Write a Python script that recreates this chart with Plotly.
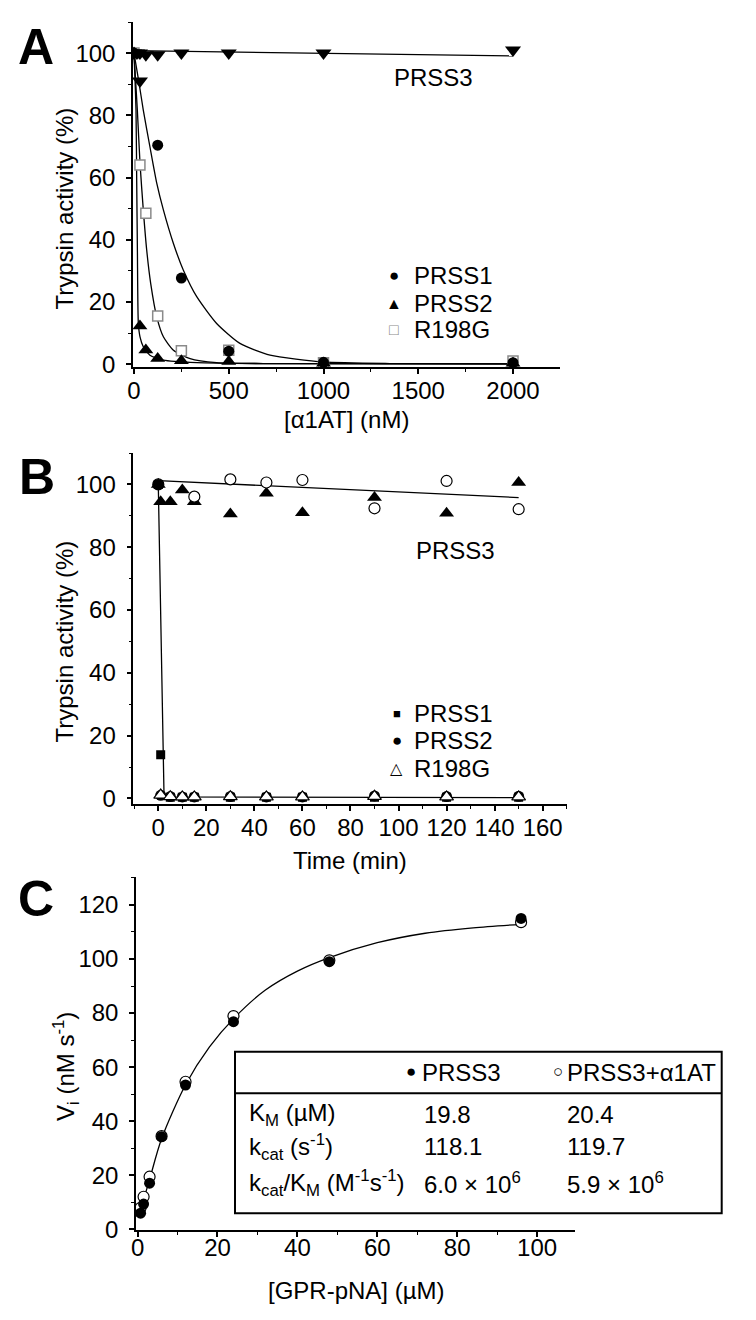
import plotly.graph_objects as go

# page body has an 8px margin, so the figure is drawn 8px in from the window corner
OFF = 8
W, H = 756 - OFF, 1320 - OFF
FONT = "Liberation Sans, Arial, sans-serif"

# ---------------- Panel A data ----------------
a_conc_prss1 = [0, 125, 250, 500, 1000, 2000]
a_prss1 = [100, 70.4, 27.7, 4.2, 0.6, 0.5]
a_conc = [0, 31.25, 62.5, 125, 250, 500, 1000, 2000]
a_prss2 = [100, 12.3, 4.6, 1.8, 1.1, 0.9, 0.3, 0.3]
a_r198g = [100, 64.0, 48.5, 15.5, 4.3, 4.5, 0.5, 1.0]
a_conc_prss3 = [0, 15.6, 31.25, 31.25, 62.5, 125, 250, 500, 1000, 2000]
a_prss3 = [100, 100, 100, 91, 99.5, 99.5, 100, 100, 100, 101]
# fitted curves
a_fit1_x = [0, 25, 49, 84, 120, 155, 208, 260, 331, 436, 559, 718, 1000, 1350, 2000]
a_fit1_y = [100, 91, 81.7, 69.9, 58.2, 49.6, 38.8, 30.3, 21.7, 13.1, 6.7, 2.9, 0.7, 0.2, 0.1]
a_fit2_x = [0, 5, 10.6, 14.2, 18, 22.9, 31.7, 49, 84, 155, 331, 683, 2000]
a_fit2_y = [100, 92, 81.7, 59, 36, 13.1, 8.8, 5.6, 2.9, 1.3, 0.5, 0.2, 0.1]
a_fitR_x = [0, 17.6, 31.7, 49, 67, 88, 120, 155, 208, 296, 436, 683, 2000]
a_fitR_y = [100, 81.7, 64.6, 49.6, 36.7, 26.0, 15.2, 8.8, 4.5, 1.8, 0.5, 0.2, 0.1]
a_fit3_x = [0, 2000]
a_fit3_y = [100.8, 99.1]
a_legend = ["PRSS1", "PRSS2", "R198G"]

# ---------------- Panel B data ----------------
b_t_tri = [0, 1, 5, 10, 15, 30, 45, 60, 90, 120, 150]
b_prss3_tri = [100, 94.5, 94.5, 98.2, 94.5, 90.6, 97.2, 91.0, 95.8, 90.8, 100.6]
b_t_circ = [0, 15, 30, 45, 60, 90, 120, 150]
b_prss3_circ = [100, 96.1, 101.6, 100.6, 101.4, 92.4, 101.1, 92.1]
b_t = [0, 1, 5, 10, 15, 30, 45, 60, 90, 120, 150]
b_prss1 = [100, 13.9, 0.4, 0.4, 0.4, 0.4, 0.4, 0.4, 0.4, 0.4, 0.4]
b_prss2 = [100, 1.0, 0.6, 0.5, 0.5, 0.6, 0.5, 0.5, 0.8, 0.6, 0.7]
b_t_r = [1, 5, 10, 15, 30, 45, 60, 90, 120, 150]
b_r198g = [1.1, 0.6, 0.5, 0.5, 0.6, 0.5, 0.5, 0.7, 0.5, 0.5]
b_fit3_x = [0, 150]
b_fit3_y = [101.2, 95.8]
b_fit_x = [0, 2.4, 150]
b_fit_y = [100, 0.5, 0.3]
b_legend = ["PRSS1", "PRSS2", "R198G"]

# ---------------- Panel C data ----------------
c_s = [0.75, 1.5, 3, 6, 12, 24, 48, 96]
c_prss3 = [6.0, 9.4, 17.1, 34.3, 53.4, 76.8, 99.0, 115.0]
c_prss3_a1at = [8.0, 12.1, 19.5, 34.5, 54.6, 78.9, 99.5, 113.6]
c_fit_x = [0.75, 1.5, 3, 6, 12, 18, 24.4, 32, 40, 48, 60, 72, 84, 96]
c_fit_y = [7.5, 11, 18.5, 33.5, 53.5, 67.5, 78.5, 88.5, 95.5, 100.5, 106, 109.5, 111.5, 112.8]

tbl_header = ["PRSS3", "PRSS3+α1AT"]
tbl_rows = ["K<sub>M</sub> (µM)", "k<sub>cat</sub> (s<sup>-1</sup>)",
            "k<sub>cat</sub>/K<sub>M</sub> (M<sup>-1</sup>s<sup>-1</sup>)"]
tbl_prss3 = ["19.8", "118.1", "6.0 × 10<sup>6</sup>"]
tbl_a1at = ["20.4", "119.7", "5.9 × 10<sup>6</sup>"]


def px(x):
    return (x - OFF) / W


def py(y):
    return 1 - (y - OFF) / H


fig = go.Figure()
LINE = dict(color="black", width=1.3)

# Panel A
for xs, ys in [(a_fit1_x, a_fit1_y), (a_fit2_x, a_fit2_y), (a_fitR_x, a_fitR_y)]:
    fig.add_trace(go.Scatter(x=xs, y=ys, mode="lines", line=dict(shape="spline", smoothing=0.6, **LINE),
                             xaxis="x", yaxis="y", hoverinfo="skip"))
fig.add_trace(go.Scatter(x=a_fit3_x, y=a_fit3_y, mode="lines", line=LINE, xaxis="x", yaxis="y", hoverinfo="skip"))
fig.add_trace(go.Scatter(x=a_conc, y=a_r198g, mode="markers", name="R198G",
                         marker=dict(symbol="square", size=10, color="white", line=dict(color="#8a8a8a", width=1.5)),
                         xaxis="x", yaxis="y"))
fig.add_trace(go.Scatter(x=a_conc, y=a_prss2, mode="markers", name="PRSS2",
                         marker=dict(symbol="triangle-up", size=13, color="black"), xaxis="x", yaxis="y"))
fig.add_trace(go.Scatter(x=a_conc_prss1, y=a_prss1, mode="markers", name="PRSS1",
                         marker=dict(symbol="circle", size=11, color="black"), xaxis="x", yaxis="y"))
fig.add_trace(go.Scatter(x=a_conc_prss3, y=a_prss3, mode="markers", name="PRSS3",
                         marker=dict(symbol="triangle-down", size=14, color="black"), xaxis="x", yaxis="y"))

# Panel B
fig.add_trace(go.Scatter(x=b_fit3_x, y=b_fit3_y, mode="lines", line=LINE, xaxis="x2", yaxis="y2", hoverinfo="skip"))
fig.add_trace(go.Scatter(x=b_fit_x, y=b_fit_y, mode="lines", line=LINE, xaxis="x2", yaxis="y2", hoverinfo="skip"))
fig.add_trace(go.Scatter(x=b_t_tri, y=b_prss3_tri, mode="markers", name="PRSS3",
                         marker=dict(symbol="triangle-up", size=13, color="black"), xaxis="x2", yaxis="y2"))
fig.add_trace(go.Scatter(x=b_t_circ, y=b_prss3_circ, mode="markers", name="PRSS3 (open)",
                         marker=dict(symbol="circle", size=11, color="white", line=dict(color="black", width=1.2)),
                         xaxis="x2", yaxis="y2"))
fig.add_trace(go.Scatter(x=b_t, y=b_prss1, mode="markers", name="PRSS1",
                         marker=dict(symbol="square", size=9, color="black"), xaxis="x2", yaxis="y2"))
fig.add_trace(go.Scatter(x=b_t, y=b_prss2, mode="markers", name="PRSS2",
                         marker=dict(symbol="circle", size=11, color="black"), xaxis="x2", yaxis="y2"))
fig.add_trace(go.Scatter(x=b_t_r, y=b_r198g, mode="markers", name="R198G",
                         marker=dict(symbol="triangle-up", size=12, color="white", line=dict(color="black", width=1.2)),
                         xaxis="x2", yaxis="y2"))

# Panel C
fig.add_trace(go.Scatter(x=c_fit_x, y=c_fit_y, mode="lines", line=dict(shape="spline", smoothing=0.8, **LINE),
                         xaxis="x3", yaxis="y3", hoverinfo="skip"))
fig.add_trace(go.Scatter(x=c_s, y=c_prss3_a1at, mode="markers", name="PRSS3+α1AT",
                         marker=dict(symbol="circle", size=11, color="white", line=dict(color="black", width=1.2)),
                         xaxis="x3", yaxis="y3"))
fig.add_trace(go.Scatter(x=c_s, y=c_prss3, mode="markers", name="PRSS3",
                         marker=dict(symbol="circle", size=11, color="black"), xaxis="x3", yaxis="y3"))


def axis(domain, rng, anchor, dtick, minor, standoff):
    return dict(domain=domain, range=rng, anchor=anchor, showgrid=False, zeroline=False, automargin=False,
                showline=True, linecolor="black", linewidth=1.5,
                ticks="outside", ticklen=5, tickwidth=1.5, tickcolor="black",
                tick0=0, dtick=dtick, ticklabelstandoff=standoff,
                minor=dict(ticks="outside", ticklen=3, tickwidth=1.2, tickcolor="black", dtick=minor),
                tickfont=dict(size=24, family=FONT, color="black"), fixedrange=True)


fig.update_layout(
    width=W, height=H, margin=dict(l=0, r=0, t=0, b=0, autoexpand=False),
    paper_bgcolor="white", plot_bgcolor="white", showlegend=False,
    font=dict(family=FONT, color="black", size=24),
    xaxis=axis([px(133), px(560)], [-5.3, 2248], "y", 500, 250, -4),
    yaxis=axis([py(367), py(22)], [-0.9, 110], "x", 20, 10, 6),
    xaxis2=axis([px(133.3), px(566.7)], [-10.4, 170], "y2", 20, 10, -4),
    yaxis2=axis([py(804.3), py(453)], [-1.85, 110], "x2", 20, 10, 6),
    xaxis3=axis([px(136), px(575)], [-0.4, 109.5], "y3", 20, 10, -10),
    yaxis3=axis([py(1230), py(877)], [-0.2, 130.3], "x3", 20, 10, 6),
    hovermode=False,
)

ann = []


def text(x, y, t, size=24, bold=False, angle=0, xanchor="center", color="black"):
    ann.append(dict(x=px(x), y=py(y), xref="paper", yref="paper", text=("<b>%s</b>" % t) if bold else t,
                    showarrow=False, xanchor=xanchor, yanchor="middle", textangle=angle,
                    font=dict(size=size, family=FONT, color=color)))


# panel letters
text(36, 47, "A", 50, True)
text(37, 477, "B", 50, True)
text(36, 899, "C", 50, True)
# axis titles
text(64, 208.5, "Trypsin activity (%)", angle=-90)
text(346, 420, "[α1AT] (nM)")
text(64, 641.5, "Trypsin activity (%)", angle=-90)
text(350, 860, "Time (min)")
text(66, 1067, "V<sub>i</sub> (nM s<sup>-1</sup>)", angle=-90)
text(356, 1290, "[GPR-pNA] (µM)")
# PRSS3 labels
text(433, 78, "PRSS3")
text(456, 550, "PRSS3")

# legends (key glyph + label)
a_keys = [("●", "black", 17), ("▲", "black", 16), ("□", "#8a8a8a", 16)]
for (g, col, sz), lab, yy in zip(a_keys, a_legend, [275, 303, 330]):
    text(394, yy, g, sz, color=col)
    text(412, yy, lab, xanchor="left")
b_keys = [("■", "black", 13), ("●", "black", 17), ("△", "black", 16)]
for (g, col, sz), lab, yy in zip(b_keys, b_legend, [713.3, 740, 768]):
    text(396.7, yy, g, sz, color=col)
    text(411.7, yy, lab, xanchor="left")

# table in panel C
shapes = [
    dict(type="rect", xref="paper", yref="paper", x0=px(235), x1=px(721.7), y0=py(1213.3), y1=py(1051.7),
         line=dict(color="black", width=2), fillcolor="white", layer="above"),
    dict(type="line", xref="paper", yref="paper", x0=px(235), x1=px(721.7), y0=py(1093.3), y1=py(1093.3),
         line=dict(color="black", width=2), layer="above"),
]
text(410.7, 1071, "●", 17)
text(420, 1072.3, tbl_header[0], xanchor="left")
text(558.3, 1071, "○", 17)
text(565, 1072.3, tbl_header[1], xanchor="left")
row_y = [1114, 1146.7, 1183.3]
for i, yy in enumerate(row_y):
    text(246.7, yy, tbl_rows[i], xanchor="left")
    text(422, yy, tbl_prss3[i], xanchor="left")
    text(565, yy, tbl_a1at[i], xanchor="left")

fig.update_layout(annotations=ann, shapes=shapes)
fig.write_html("out.html")
